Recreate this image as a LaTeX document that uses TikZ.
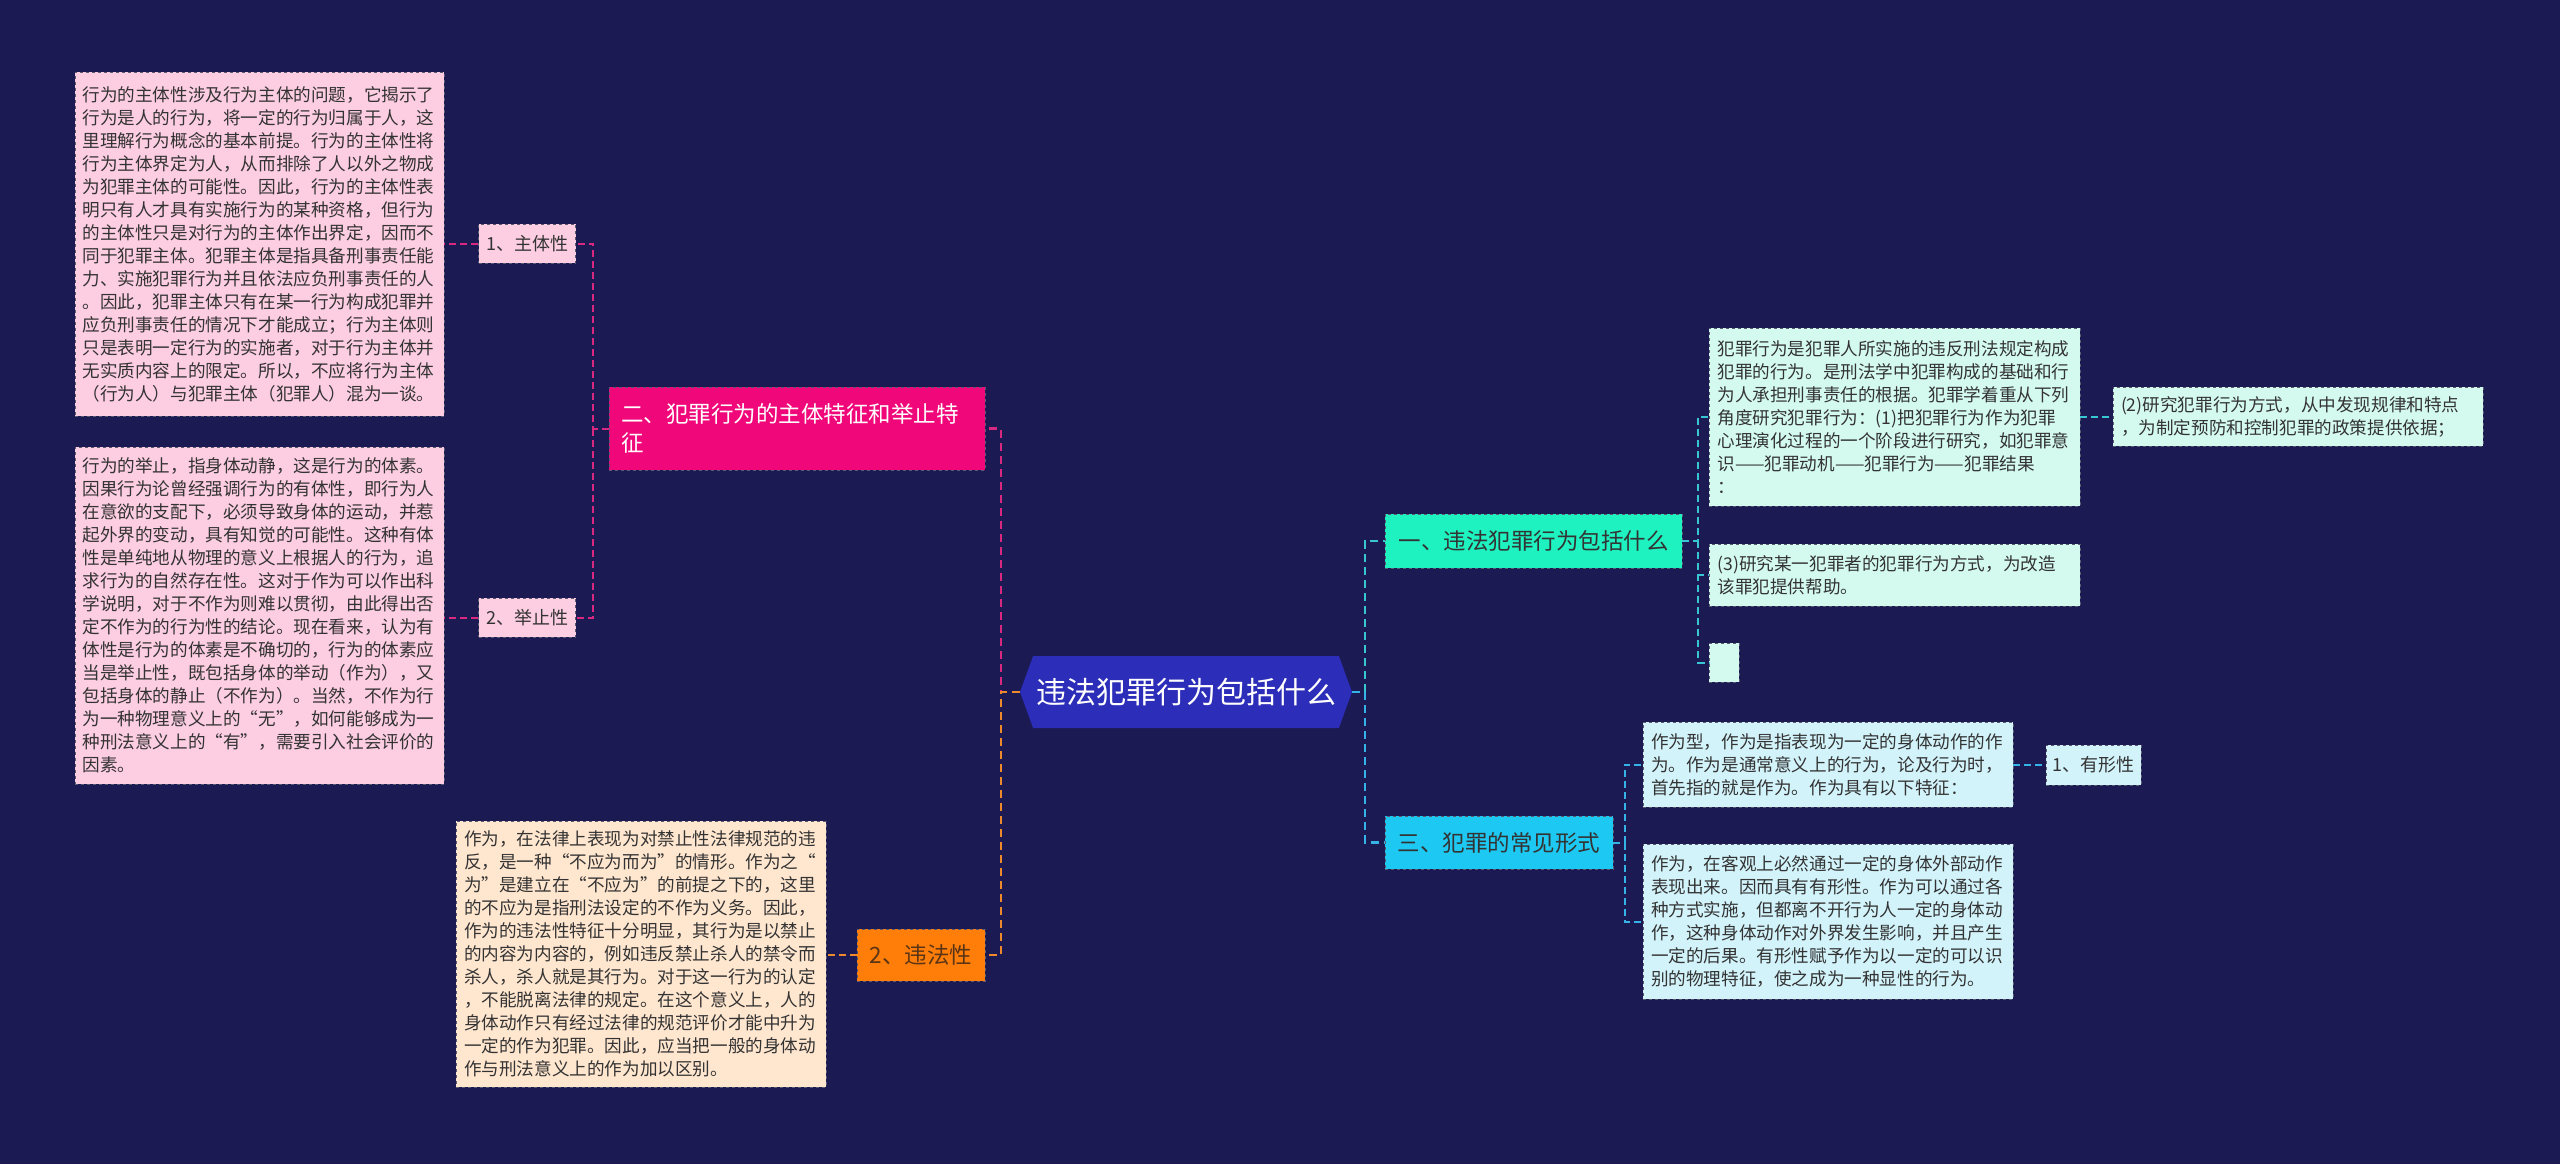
\documentclass[tikz,border=0pt]{standalone}
\usepackage{fontspec}
\setmainfont{Noto Sans CJK SC}
\usepackage{tikz}
\usetikzlibrary{shapes.symbols}

\definecolor{bgc}{HTML}{1B1A53}
\definecolor{rootc}{HTML}{2C2DB8}
\definecolor{magc}{HTML}{F0077A}
\definecolor{pinkc}{HTML}{FDCDE2}
\definecolor{pinkln}{HTML}{D9287F}
\definecolor{orgc}{HTML}{FF7E0A}
\definecolor{orgtxt}{HTML}{5A3415}
\definecolor{peachc}{HTML}{FFE6CF}
\definecolor{orgln}{HTML}{EE8A2E}
\definecolor{mintc}{HTML}{1EF2C0}
\definecolor{mintlt}{HTML}{D4FAF0}
\definecolor{tealln}{HTML}{38C6D2}
\definecolor{cyanc}{HTML}{1DC9F2}
\definecolor{cyanlt}{HTML}{D3F3FB}
\definecolor{cyanln}{HTML}{36B3E6}
\definecolor{txtc}{HTML}{333333}
\definecolor{borderc}{HTML}{5A5A70}

\begin{document}
\begin{tikzpicture}[
    x=1pt, y=-1pt,
    box/.style={
        rectangle, draw=borderc, dashed, line width=0.8pt,
        text=txtc, inner sep=0pt, align=left
    },
    detail/.style={box, text width=354pt, minimum width=370pt,
        font=\fontsize{17.6pt}{23pt}\selectfont},
    small/.style={box, minimum height=39pt, minimum width=97pt,
        font=\fontsize{18pt}{22pt}\selectfont},
    branch/.style={box, font=\fontsize{22.5pt}{29pt}\selectfont},
    root/.style={
        signal, signal to=west and east, signal pointer angle=140,
        fill=rootc, draw=none, text=white, inner sep=0pt,
        minimum width=332pt, minimum height=72pt,
        font=\fontsize{30pt}{36pt}\selectfont
    },
    ln/.style={line width=2.6pt, dash pattern=on 8pt off 5pt},
    subln/.style={line width=2pt, dash pattern=on 7pt off 4pt}
]
\fill[bgc] (0,0) rectangle (2560,1164);

\node[root] (root) at (1186, 692) {违法犯罪行为包括什么};

\node[branch, fill=magc, text=white, text width=352pt, minimum width=376pt, minimum height=83pt] (b2) at (797, 428.5) {二、犯罪行为的主体特征和举止特\\征};
\node[branch, fill=orgc, text=orgtxt, minimum width=128pt, minimum height=52pt] (wf) at (921, 955) {2、违法性};
\node[branch, fill=mintc, minimum width=297pt, minimum height=54pt] (b1) at (1533.5, 541) {一、违法犯罪行为包括什么};
\node[branch, fill=cyanc, minimum width=228pt, minimum height=53pt] (b3) at (1499, 842.5) {三、犯罪的常见形式};

\node[small, fill=pinkc] (zt) at (527, 243.5) {1、主体性};
\node[small, fill=pinkc] (jz) at (527, 617.5) {2、举止性};
\node[small, fill=cyanlt, minimum width=95pt, minimum height=40pt] (yx) at (2093.5, 765) {1、有形性};

\node[detail, fill=pinkc, minimum width=369pt, minimum height=344pt] (ztd) at (259.5, 244) {行为的主体性涉及行为主体的问题，它揭示了\\行为是人的行为，将一定的行为归属于人，这\\里理解行为概念的基本前提。行为的主体性将\\行为主体界定为人，从而排除了人以外之物成\\为犯罪主体的可能性。因此，行为的主体性表\\明只有人才具有实施行为的某种资格，但行为\\的主体性只是对行为的主体作出界定，因而不\\同于犯罪主体。犯罪主体是指具备刑事责任能\\力、实施犯罪行为并且依法应负刑事责任的人\\。因此，犯罪主体只有在某一行为构成犯罪并\\应负刑事责任的情况下才能成立；行为主体则\\只是表明一定行为的实施者，对于行为主体并\\无实质内容上的限定。所以，不应将行为主体\\（行为人）与犯罪主体（犯罪人）混为一谈。};
\node[detail, fill=pinkc, minimum width=369pt, minimum height=337pt] (jzd) at (259.5, 615.5) {行为的举止，指身体动静，这是行为的体素。\\因果行为论曾经强调行为的有体性，即行为人\\在意欲的支配下，必须导致身体的运动，并惹\\起外界的变动，具有知觉的可能性。这种有体\\性是单纯地从物理的意义上根据人的行为，追\\求行为的自然存在性。这对于作为可以作出科\\学说明，对于不作为则难以贯彻，由此得出否\\定不作为的行为性的结论。现在看来，认为有\\体性是行为的体素是不确切的，行为的体素应\\当是举止性，既包括身体的举动（作为），又\\包括身体的静止（不作为）。当然，不作为行\\为一种物理意义上的“无”，如何能够成为一\\种刑法意义上的“有”，需要引入社会评价的\\因素。};
\node[detail, fill=peachc, minimum height=266pt] (wfd) at (641, 954) {作为，在法律上表现为对禁止性法律规范的违\\反，是一种“不应为而为”的情形。作为之“\\为”是建立在“不应为”的前提之下的，这里\\的不应为是指刑法设定的不作为义务。因此，\\作为的违法性特征十分明显，其行为是以禁止\\的内容为内容的，例如违反禁止杀人的禁令而\\杀人，杀人就是其行为。对于这一行为的认定\\，不能脱离法律的规定。在这个意义上，人的\\身体动作只有经过法律的规范评价才能中升为\\一定的作为犯罪。因此，应当把一般的身体动\\作与刑法意义上的作为加以区别。};

\node[detail, fill=mintlt, minimum width=371pt, minimum height=178pt] (f1) at (1894.5, 417) {犯罪行为是犯罪人所实施的违反刑法规定构成\\犯罪的行为。是刑法学中犯罪构成的基础和行\\为人承担刑事责任的根据。犯罪学着重从下列\\角度研究犯罪行为：(1)把犯罪行为作为犯罪\\心理演化过程的一个阶段进行研究，如犯罪意\\识——犯罪动机——犯罪行为——犯罪结果\\：};
\node[detail, fill=mintlt, minimum width=371pt, minimum height=62pt] (f3) at (1894.5, 575) {(3)研究某一犯罪者的犯罪行为方式，为改造\\该罪犯提供帮助。};
\node[box, fill=mintlt, minimum width=30pt, minimum height=39pt] (f4) at (1724, 662.5) {};
\node[detail, fill=mintlt, minimum height=59pt] (f2) at (2298, 416.5) {(2)研究犯罪行为方式，从中发现规律和特点\\，为制定预防和控制犯罪的政策提供依据；};

\node[detail, fill=cyanlt, minimum height=85pt] (x1) at (1828, 764.5) {作为型，作为是指表现为一定的身体动作的作\\为。作为是通常意义上的行为，论及行为时，\\首先指的就是作为。作为具有以下特征：};
\node[detail, fill=cyanlt, minimum height=155pt] (x2) at (1828, 921.5) {作为，在客观上必然通过一定的身体外部动作\\表现出来。因而具有有形性。作为可以通过各\\种方式实施，但都离不开行为人一定的身体动\\作，这种身体动作对外界发生影响，并且产生\\一定的后果。有形性赋予作为以一定的可以识\\别的物理特征，使之成为一种显性的行为。};

\coordinate (lt) at (1001, 692);
\coordinate (rt) at (1365, 692);
\coordinate (t2) at (593, 428.5);
\coordinate (t1) at (1698, 541);
\coordinate (t3) at (1625, 842.5);

\draw[ln, pinkln] (root.west) -- (lt) |- (b2.east);
\draw[ln, orgln] (root.west) -- (lt) |- (wf.east);
\draw[ln, tealln] (root.east) -- (rt) |- (b1.west);
\draw[ln, cyanln] (root.east) -- (rt) |- (b3.west);

\draw[subln, pinkln] (b2.west) -- (t2) |- (zt.east);
\draw[subln, pinkln] (t2) |- (jz.east);
\draw[subln, pinkln] (zt.west) -- (zt.west -| ztd.east);
\draw[subln, pinkln] (jz.west) -- (jz.west -| jzd.east);
\draw[subln, orgln] (wf.west) -- (wf.west -| wfd.east);

\draw[subln, tealln] (b1.east) -- (t1) |- (f1.west);
\draw[subln, tealln] (t1) |- (f3.west);
\draw[subln, tealln] (t1) |- (f4.west);
\draw[subln, tealln] (f1.east) -- (f1.east -| f2.west);

\draw[subln, cyanln] (b3.east) -- (t3) |- (x1.west);
\draw[subln, cyanln] (t3) |- (x2.west);
\draw[subln, cyanln] (x1.east) -- (x1.east -| yx.west);
\end{tikzpicture}
\end{document}
